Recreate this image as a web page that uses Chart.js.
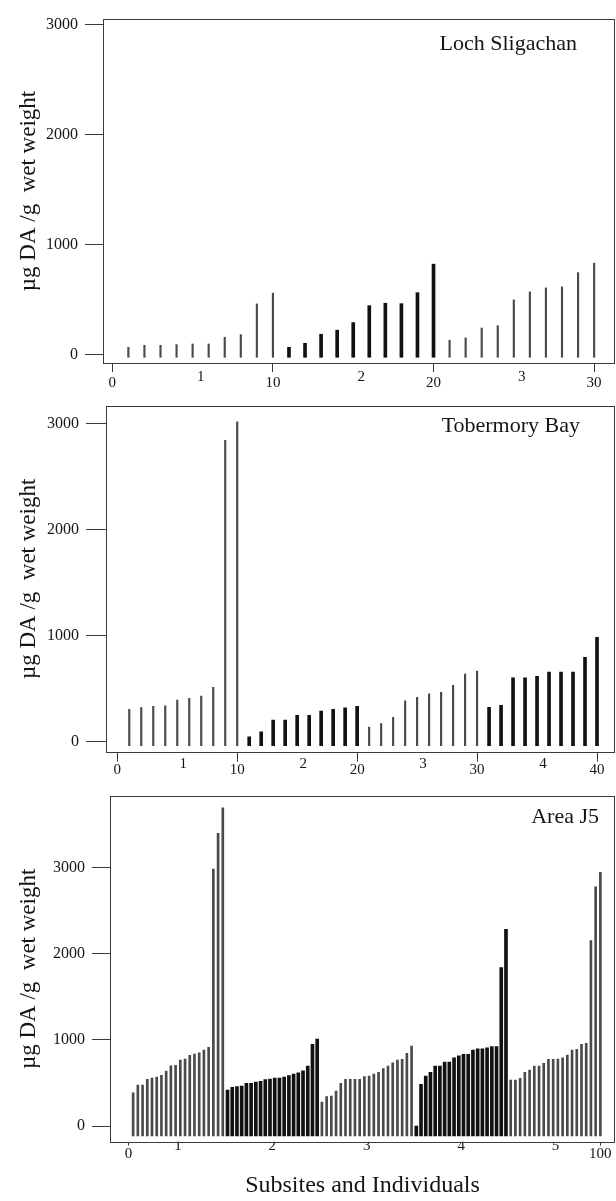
<!DOCTYPE html>
<html>
<head>
<meta charset="utf-8">
<title>Domoic acid by subsite and individual</title>
<script src="https://cdn.jsdelivr.net/npm/chart.js@4.4.3/dist/chart.umd.min.js"></script>
<style>
    html, body { margin: 0; padding: 0; background: #fff; }
    #page { position: relative; width: 616px; height: 1201px; overflow: hidden; }
    canvas { position: absolute; left: 0; }
</style>
</head>
<body>
<div id="page">
    <canvas id="lochChart" width="616" height="395" style="top:0px"></canvas>
    <canvas id="tobermoryChart" width="616" height="390" style="top:395px"></canvas>
    <canvas id="areaJ5Chart" width="616" height="416" style="top:785px"></canvas>
</div>
<script>
// -----------------------------
// Data (µg DA / g wet weight, one value per individual)
// -----------------------------

const yTitle = "µg DA /g  wet weight";
const xTitle = "Subsites and Individuals";
const yTickValues = [0, 1000, 2000, 3000];

const lochName = "Loch Sligachan";
const lochSubsites = ["1", "2", "3"];
const lochIndividualTicks = [0, 10, 20, 30];
const lochValues = [
    70, 88, 88, 94, 100, 100, 161, 185, 464, 561,
    70, 106, 188, 225, 294, 448, 470, 466, 566, 825,
    134, 155, 245, 266, 500, 573, 609, 618, 748, 834
];

const tobermoryName = "Tobermory Bay";
const tobermorySubsites = ["1", "2", "3", "4"];
const tobermoryIndividualTicks = [0, 10, 20, 30, 40];
const tobermoryValues = [
    305, 321, 334, 339, 393, 409, 431, 513, 2840, 3015,
    47, 94, 205, 205, 249, 249, 289, 305, 320, 334,
    139, 170, 230, 386, 418, 452, 466, 532, 638, 666,
    324, 343, 603, 603, 616, 657, 657, 657, 795, 984
];

const areaJ5Name = "Area J5";
const areaJ5Subsites = ["1", "2", "3", "4", "5"];
const areaJ5IndividualTicks = [0, 100];
const areaJ5Values = [
    386, 475, 475, 541, 557, 568, 588, 638, 699, 704, 765, 777, 820, 835, 850, 881, 913, 2980, 3394, 3691,
    417, 449, 456, 464, 495, 495, 508, 518, 537, 545, 555, 557, 568, 584, 603, 617, 640, 696, 947, 1007,
    278, 340, 348, 406, 495, 541, 541, 541, 541, 572, 580, 603, 623, 665, 696, 734, 765, 773, 843, 928,
    0, 483, 580, 623, 696, 696, 742, 742, 792, 815, 831, 831, 881, 896, 896, 906, 920, 920, 1836, 2281,
    533, 533, 553, 623, 649, 696, 696, 727, 773, 773, 777, 792, 823, 881, 889, 947, 959, 2149, 2775, 2942
];

const FONT = "'Liberation Serif', 'DejaVu Serif', serif";
const INK = "#151515";

// box round the plot area
const frameBorder = {
    id: "frameBorder",
    afterDraw(chart) {
        const { ctx, chartArea: a } = chart;
        ctx.save();
        ctx.strokeStyle = "#3a3a3a";
        ctx.lineWidth = 1;
        ctx.strokeRect(Math.round(a.left) + 0.5, Math.round(a.top) + 0.5,
            Math.round(a.right - a.left) - 1, Math.round(a.bottom - a.top));
        ctx.restore();
    }
};

// site name in the top right corner
const panelName = {
    id: "panelName",
    afterDraw(chart, args, opts) {
        if (!opts.text) return;
        const ctx = chart.ctx;
        ctx.save();
        ctx.font = "22px " + FONT;
        ctx.fillStyle = INK;
        ctx.textAlign = "right";
        ctx.textBaseline = "alphabetic";
        ctx.fillText(opts.text, chart.chartArea.right - opts.right, chart.chartArea.top + opts.baseline);
        ctx.restore();
    }
};

Chart.register(frameBorder, panelName);

function drawPanel({
    canvasId, name, values, subsites, individualTicks, groupSize,
    xMin, xMax, yMin, yMax, base,
    frameLeft, frameTop, axisHeight, yTickLength,
    tickLength, subsiteLine, individualLine,
    thinWidth, thickWidth, nameRight, nameBaseline, showXTitle
}) {
    const canvas = document.getElementById(canvasId);

    // alternate subsites: odd ones drawn thin, even ones thick
    const thin = [];
    const thick = [];
    values.forEach((v, i) => {
        const group = Math.floor(i / groupSize);
        (group % 2 ? thick : thin).push({ x: i + 1, y: v });
    });

    const subsiteCentres = subsites.map((s, i) => i * groupSize + (groupSize + 1) / 2);
    const xTicks = individualTicks.concat(subsiteCentres).sort((a, b) => a - b);
    const isSubsite = ctx => !!(ctx && ctx.tick) && subsiteCentres.includes(ctx.tick.value);

    return new Chart(canvas, {
        type: "bar",
        data: {
            datasets: [
                { data: thin, backgroundColor: "#4a4a4a", barThickness: thinWidth, grouped: false, base },
                { data: thick, backgroundColor: "#111", barThickness: thickWidth, grouped: false, base }
            ]
        },
        options: {
            responsive: false,
            animation: false,
            devicePixelRatio: 1,
            layout: { padding: { top: frameTop, left: 0, right: 1, bottom: 0 } },
            plugins: {
                legend: { display: false },
                tooltip: { enabled: false },
                panelName: { text: name, right: nameRight, baseline: nameBaseline }
            },
            scales: {
                x: {
                    type: "linear",
                    min: xMin,
                    max: xMax,
                    offset: false,
                    afterBuildTicks: scale => { scale.ticks = xTicks.map(value => ({ value })); },
                    afterFit: scale => {
                        scale.height = axisHeight;
                        scale.paddingLeft = 0;
                        scale.paddingRight = 0;
                    },
                    border: { display: false },
                    grid: {
                        offset: false,
                        drawOnChartArea: false,
                        tickLength,
                        tickColor: ctx => isSubsite(ctx) ? "rgba(0,0,0,0)" : "#3a3a3a"
                    },
                    ticks: {
                        autoSkip: false,
                        maxRotation: 0,
                        padding: 0,
                        color: INK,
                        font: ctx => ({
                            family: FONT,
                            size: 15,
                            lineHeight: isSubsite(ctx) ? subsiteLine : individualLine
                        }),
                        callback: value => {
                            const k = subsiteCentres.indexOf(value);
                            return k >= 0 ? subsites[k] : String(value);
                        }
                    },
                    title: {
                        display: showXTitle,
                        text: xTitle,
                        color: INK,
                        font: { family: FONT, size: 24 },
                        padding: { top: 0, bottom: 1 }
                    }
                },
                y: {
                    min: yMin,
                    max: yMax,
                    afterBuildTicks: scale => { scale.ticks = yTickValues.map(value => ({ value })); },
                    afterFit: scale => {
                        scale.width = frameLeft;
                        scale.paddingTop = 0;
                        scale.paddingBottom = 0;
                    },
                    border: { display: false },
                    grid: { drawOnChartArea: false, tickLength: yTickLength, tickColor: "#3a3a3a" },
                    ticks: {
                        padding: 7,
                        color: INK,
                        font: { family: FONT, size: 16 },
                        callback: value => String(value)
                    },
                    title: {
                        display: true,
                        text: yTitle,
                        color: INK,
                        font: { family: FONT, size: 23 },
                        padding: { top: 15, bottom: 0 }
                    }
                }
            }
        }
    });
}

drawPanel({
    canvasId: "lochChart", name: lochName, values: lochValues,
    subsites: lochSubsites, individualTicks: lochIndividualTicks, groupSize: 10,
    xMin: -0.58, xMax: 31.3, yMin: -73, yMax: 3052, base: -21,
    frameLeft: 103, frameTop: 19, axisHeight: 32, yTickLength: 18,
    tickLength: 9, subsiteLine: 0.7, individualLine: 1.45,
    thinWidth: 1.5, thickWidth: 3, nameRight: 38, nameBaseline: 31, showXTitle: false
});

drawPanel({
    canvasId: "tobermoryChart", name: tobermoryName, values: tobermoryValues,
    subsites: tobermorySubsites, individualTicks: tobermoryIndividualTicks, groupSize: 10,
    xMin: -0.94, xMax: 41.5, yMin: -94, yMax: 3164, base: -38,
    frameLeft: 106, frameTop: 11, axisHeight: 33.3, yTickLength: 20,
    tickLength: 10, subsiteLine: 0.25, individualLine: 1.07,
    thinWidth: 1.5, thickWidth: 3, nameRight: 35, nameBaseline: 26, showXTitle: false
});

drawPanel({
    canvasId: "areaJ5Chart", name: areaJ5Name, values: areaJ5Values,
    subsites: areaJ5Subsites, individualTicks: areaJ5IndividualTicks, groupSize: 20,
    xMin: -3.9, xMax: 103.1, yMin: -182, yMax: 3827, base: -116,
    frameLeft: 110, frameTop: 11, axisHeight: 59.3, yTickLength: 18,
    tickLength: 4, subsiteLine: 0.05, individualLine: 1.1,
    thinWidth: 2, thickWidth: 3, nameRight: 16, nameBaseline: 27, showXTitle: true
});
</script>
</body>
</html>
